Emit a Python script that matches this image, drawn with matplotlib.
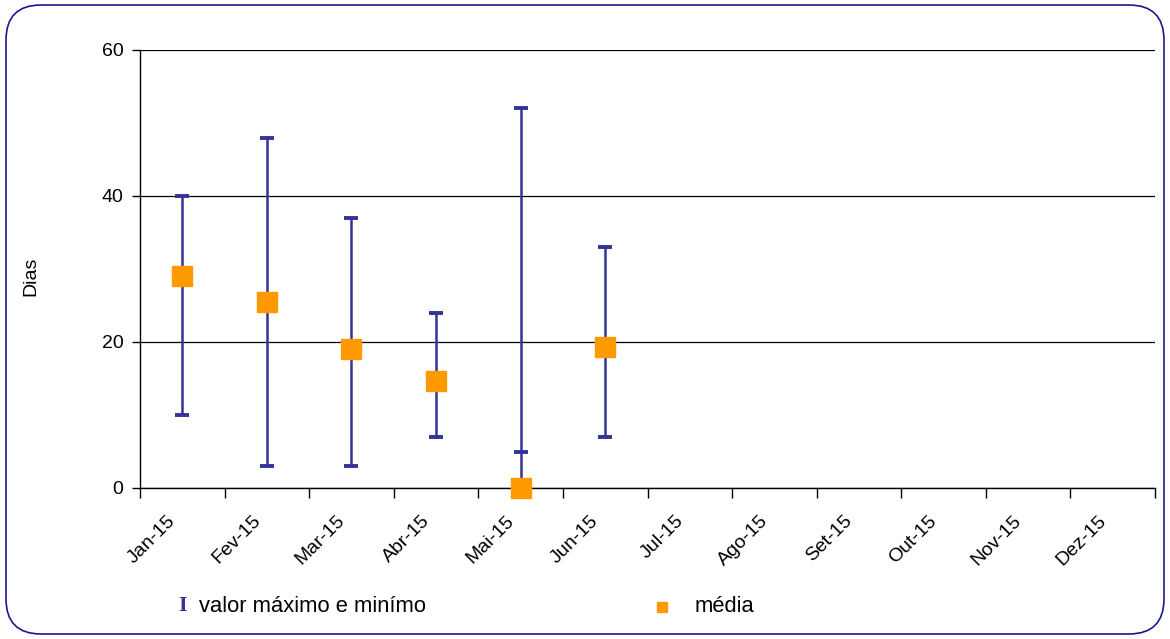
import matplotlib.pyplot as plt
from matplotlib.patches import FancyBboxPatch
from matplotlib.lines import Line2D
import matplotlib.transforms as mtransforms

plt.rcParams['font.family'] = ['Liberation Sans', 'DejaVu Sans']

meses = ['Jan-15', 'Fev-15', 'Mar-15', 'Abr-15', 'Mai-15', 'Jun-15',
         'Jul-15', 'Ago-15', 'Set-15', 'Out-15', 'Nov-15', 'Dez-15']
maximo = [40, 48, 37, 24, 52, 33]
minimo = [10, 3, 3, 7, 5, 7]
media = [29, 25.5, 19, 14.7, 0, 19.3]

barra = '#333399'
laranja = '#FF9900'

fig = plt.figure(figsize=(11.7, 6.39), dpi=100)
ax = fig.add_axes([140/1170, 151/639, 1015/1170, 438/639])

x = list(range(len(media)))
# linha vertical do minimo (ou media, se menor) ate o maximo
base = [min(a, b) for a, b in zip(minimo, media)]
ax.vlines(x, base, maximo, color=barra, lw=1.8, zorder=3)
ax.plot(x, maximo, ls='none', marker='_', ms=10.5, mew=2.8, color=barra, zorder=3)
ax.plot(x, minimo, ls='none', marker='_', ms=10.5, mew=2.8, color=barra, zorder=3)
ax.plot(x, media, ls='none', marker='s', ms=14.5, color=laranja, mec=laranja, zorder=4,
        clip_on=False)

ax.set_xlim(-0.5, len(meses) - 0.5)
ax.set_ylim(0, 60)
ax.set_yticks([0, 20, 40, 60])
ax.yaxis.grid(True, color='black', lw=0.9)
ax.set_axisbelow(True)

ax.set_xticks([i + 0.5 for i in range(-1, len(meses))], minor=False)
ax.set_xticklabels([])
ax.tick_params(axis='x', which='major', length=7, width=1, direction='out')
ax.set_xticks(range(len(meses)), minor=True)
ax.set_xticklabels(meses, minor=True, rotation=45, ha='right', va='top',
                   rotation_mode='anchor', fontsize=14)
ax.tick_params(axis='x', which='minor', length=0, pad=17.5)
ax.tick_params(axis='y', length=6, width=1, labelsize=14, pad=6)

for s in ['top', 'right']:
    ax.spines[s].set_visible(False)
for s in ['left', 'bottom']:
    ax.spines[s].set_color('black')
    ax.spines[s].set_linewidth(1)

for lbl in ax.get_xticklabels(minor=True):
    lbl.set_transform(lbl.get_transform() +
                      mtransforms.ScaledTranslation(-15/100, 0, fig.dpi_scale_trans))

fig.text(31/1170, 1 - 276/639, 'Dias', rotation=90, ha='center', va='center', fontsize=14)

# legenda
fig.text(183/1170, 1 - 606/639, 'I', family=['Liberation Serif', 'DejaVu Serif'],
         color=barra, fontsize=16, fontweight='bold', ha='center', va='center')
fig.text(199/1170, 1 - 606/639, 'valor máximo e minímo', fontsize=15.8, va='center')
fig.add_artist(Line2D([662/1170], [1 - 607/639], marker='s', ms=7, color=laranja,
                      ls='none', transform=fig.transFigure))
fig.text(695/1170, 1 - 606/639, 'média', fontsize=15.8, va='center')

# moldura arredondada
fig.patches.append(FancyBboxPatch((6/1170, 5/639), 1158/1170, 629/639,
                                  boxstyle='round,pad=0,rounding_size=0.03',
                                  transform=fig.transFigure, fill=False,
                                  ec='#1a1a8c', lw=1.2, mutation_aspect=1170/639))

fig.savefig('out.png', dpi=100)
